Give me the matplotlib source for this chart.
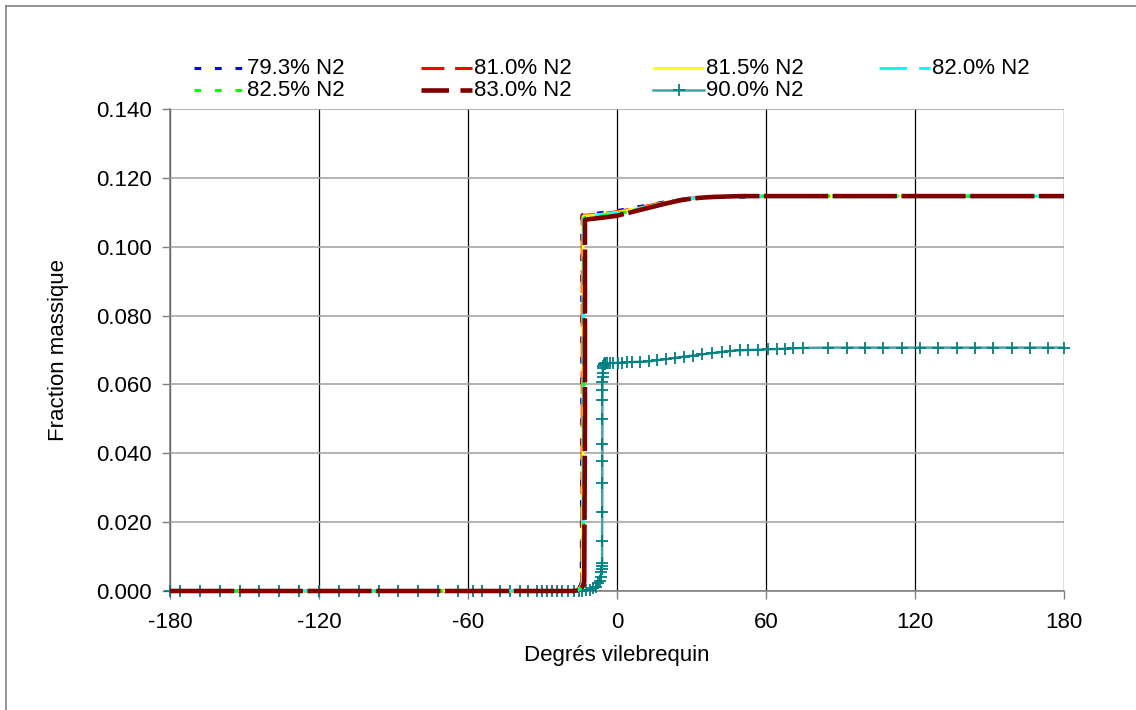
import matplotlib
matplotlib.use("Agg")
import matplotlib.pyplot as plt
from matplotlib.lines import Line2D

plt.rcParams['font.family'] = ['Liberation Sans', 'DejaVu Sans']

# ---------------- data ----------------
labels = ["79.3% N2", "81.0% N2", "81.5% N2", "82.0% N2", "82.5% N2", "83.0% N2", "90.0% N2"]

x_low = [-180, -170, -160, -150, -140, -130, -120, -110, -100, -90, -80, -70,
         -60, -50, -40, -30, -25, -20, -18]
y_low = [0.0] * len(x_low)

x_up = [-10, -5, 0, 5, 10, 15, 20, 25, 30, 35, 40, 45, 50, 60, 75, 90, 105, 120, 135, 150, 165, 180]

# near-ignition points for each mixture
x_jump_793 = [-16.5, -15.5, -14.8, -14.4, -14.2, -14.2, -14.0]
y_jump_793 = [0.0002, 0.0008, 0.0016, 0.0026, 0.0500, 0.1090, 0.1093]
y_up_793 = [0.1096, 0.1100, 0.1105, 0.1111, 0.1118, 0.1125, 0.1131, 0.1137, 0.1141, 0.1143,
            0.1144, 0.1144, 0.1144, 0.1146, 0.1146, 0.1146, 0.1146, 0.1146, 0.1146, 0.1146, 0.1146, 0.1146]

x_jump_810 = [-16.3, -15.3, -14.6, -14.2, -14.0, -14.0, -13.7]
y_jump_810 = [0.0002, 0.0008, 0.0016, 0.0026, 0.0500, 0.1088, 0.1091]
y_up_810 = [0.1093, 0.1097, 0.1102, 0.1108, 0.1115, 0.1123, 0.1130, 0.1136, 0.1141, 0.1143,
            0.1145, 0.1146, 0.1146, 0.1147, 0.1147, 0.1147, 0.1147, 0.1147, 0.1147, 0.1147, 0.1147, 0.1147]

x_jump_815 = [-16.0, -15.0, -14.3, -13.9, -13.7, -13.7, -13.4]
y_jump_815 = [0.0002, 0.0008, 0.0016, 0.0026, 0.0500, 0.1086, 0.1089]
y_up_815 = [0.1091, 0.1095, 0.1100, 0.1106, 0.1113, 0.1121, 0.1129, 0.1135, 0.1140, 0.1143,
            0.1145, 0.1146, 0.1147, 0.1147, 0.1147, 0.1147, 0.1147, 0.1147, 0.1147, 0.1147, 0.1147, 0.1147]

x_jump_820 = [-15.8, -14.8, -14.1, -13.7, -13.5, -13.5, -13.2]
y_jump_820 = [0.0002, 0.0008, 0.0016, 0.0026, 0.0500, 0.1084, 0.1087]
y_up_820 = [0.1089, 0.1093, 0.1098, 0.1104, 0.1112, 0.1120, 0.1128, 0.1135, 0.1140, 0.1143,
            0.1145, 0.1146, 0.1147, 0.1147, 0.1147, 0.1147, 0.1147, 0.1147, 0.1147, 0.1147, 0.1147, 0.1147]

x_jump_825 = [-15.6, -14.6, -13.9, -13.5, -13.3, -13.3, -13.0]
y_jump_825 = [0.0002, 0.0008, 0.0016, 0.0026, 0.0500, 0.1082, 0.1085]
y_up_825 = [0.1086, 0.1090, 0.1095, 0.1102, 0.1110, 0.1119, 0.1127, 0.1134, 0.1140, 0.1143,
            0.1145, 0.1146, 0.1147, 0.1147, 0.1147, 0.1147, 0.1147, 0.1147, 0.1147, 0.1147, 0.1147, 0.1147]

x_jump_830 = [-15.3, -14.3, -13.6, -13.2, -12.9, -12.9, -12.5]
y_jump_830 = [0.0002, 0.0008, 0.0016, 0.0026, 0.0500, 0.1077, 0.1079]
y_up_830 = [0.1081, 0.1085, 0.1090, 0.1099, 0.1108, 0.1117, 0.1126, 0.1134, 0.1140, 0.1143,
            0.1145, 0.1146, 0.1147, 0.1147, 0.1147, 0.1147, 0.1147, 0.1147, 0.1147, 0.1147, 0.1147, 0.1147]

x_900 = [-180, -176, -168, -160, -152, -144, -136, -128, -120, -112, -104, -96, -88, -80,
         -72, -64, -58, -54.5, -47, -43, -39, -35.8, -32.4, -30.2, -28.2, -26.2, -24.2,
         -22.2, -19.7, -17.5, -15.5, -14.0, -12.5, -11.0, -9.5, -8.5, -7.5, -7.0, -6.6,
         -6.3, -6.1, -6.05, -6.0, -6.0, -5.95, -5.95, -5.9, -5.9, -5.9, -5.9, -5.85, -5.85,
         -5.8, -5.75, -5.7, -5.6, -5.4, -5.0, -4.8, -4.1, -2.8, -1.5, 0.5, 1.9, 3.9, 5.9,
         9.3, 13.0, 16.0, 19.7, 23.3, 27.0, 30.7, 34.4, 38.1, 42.1, 45.5, 49.5, 52.9, 56.9,
         60.8, 64.6, 67.8, 71.0, 75.0, 85.0, 92.6, 99.9, 107.0, 114.8, 122.0, 129.3, 137.0,
         144.0, 151.4, 159.0, 166.3, 173.6, 180.0]
y_900 = [0.0, 0.0, 0.0, 0.0, 0.0, 0.0, 0.0, 0.0, 0.0, 0.0, 0.0, 0.0, 0.0, 0.0,
         0.0, 0.0, 0.0, 0.0, 0.0, 0.0, 0.0, 0.0, 0.0, 0.0, 0.0, 0.0, 0.0,
         0.0, 0.0, 0.0, 0.0001, 0.0001, 0.0002, 0.0004, 0.0008, 0.0013, 0.0022, 0.0030, 0.0042,
         0.0055, 0.0063, 0.0073, 0.0082, 0.0146, 0.0230, 0.0313, 0.0378, 0.0427, 0.0499, 0.0555, 0.0584, 0.0608,
         0.0621, 0.0632, 0.0647, 0.0653, 0.0658, 0.0660, 0.0661, 0.0661, 0.0662, 0.0662, 0.0663, 0.0663, 0.0664, 0.0665,
         0.0666, 0.0667, 0.0670, 0.0673, 0.0677, 0.0681, 0.0684, 0.0687, 0.0691, 0.0694, 0.0697, 0.0699, 0.0700, 0.0701,
         0.0702, 0.0703, 0.0704, 0.0705, 0.0706, 0.0707, 0.0707, 0.0707, 0.0707, 0.0707, 0.0707, 0.0707, 0.0707,
         0.0707, 0.0707, 0.0707, 0.0707, 0.0707, 0.0707]

x_ticks = [-180, -120, -60, 0, 60, 120, 180]
y_ticks = [0.0, 0.02, 0.04, 0.06, 0.08, 0.10, 0.12, 0.14]

# ---------------- styles ----------------
W, H = 1136, 710
FS = 16
plot_styles = [
    dict(color='#0000ff', lw=2.2, dashes=(2.2, 4.5)),
    dict(color='#ff0000', lw=2.2, dashes=(7.5, 3.5)),
    dict(color='#ffff00', lw=2.2, ls='-'),
    dict(color='#00ffff', lw=2.2, dashes=(9, 4)),
    dict(color='#00ff00', lw=2.2, dashes=(2.2, 4.5)),
    dict(color='#800000', lw=3.3, dashes=(14, 1.0)),
]
legend_styles = [
    dict(color='#0000ff', lw=2.2, dashes=(2.2, 4.5)),
    dict(color='#ff0000', lw=2.2, dashes=(7.5, 3.5)),
    dict(color='#ffff00', lw=2.2, ls='-'),
    dict(color='#00ffff', lw=2.2, dashes=(9, 4)),
    dict(color='#00ff00', lw=2.2, dashes=(2.2, 4.5)),
    dict(color='#800000', lw=3.3, dashes=(6, 2.5)),
]
teal_line = '#46a3a3'
teal_marker = '#008080'

fig = plt.figure(figsize=(W / 100, H / 100), dpi=100)
ax = fig.add_axes([170 / W, 1 - 591 / H, (1064 - 170) / W, (591 - 109) / H])

series = [
    (x_low + x_jump_793 + x_up, y_low + y_jump_793 + y_up_793),
    (x_low + x_jump_810 + x_up, y_low + y_jump_810 + y_up_810),
    (x_low + x_jump_815 + x_up, y_low + y_jump_815 + y_up_815),
    (x_low + x_jump_820 + x_up, y_low + y_jump_820 + y_up_820),
    (x_low + x_jump_825 + x_up, y_low + y_jump_825 + y_up_825),
    (x_low + x_jump_830 + x_up, y_low + y_jump_830 + y_up_830),
]
for (xs, ys), st, lab in zip(series, plot_styles, labels[:6]):
    ax.plot(xs, ys, label=lab, solid_capstyle='butt', dash_capstyle='butt',
            clip_on=False, zorder=3, **st)
ax.plot(x_900, y_900, label=labels[6], color=teal_line, lw=1.8,
        marker='+', ms=8, mew=1.3, mec=teal_marker, clip_on=False, zorder=2.9)

ax.set_xlim(-180, 180)
ax.set_ylim(0, 0.14)
ax.set_xticks(x_ticks)
ax.set_xticklabels([str(v) for v in x_ticks])
ax.set_yticks(y_ticks)
ax.set_yticklabels(['%.3f' % v for v in y_ticks])
ax.tick_params(axis='both', direction='out', length=6, width=1, color='#808080',
               labelsize=FS, labelcolor='black')
ax.tick_params(axis='y', pad=7)
ax.tick_params(axis='x', pad=9)

ax.yaxis.grid(True, color='#a6a6a6', lw=1.2)
ax.xaxis.grid(True, color='black', lw=0.9)
ax.set_axisbelow(True)
for s in ['top', 'right']:
    ax.spines[s].set_visible(False)
for s in ['left', 'bottom']:
    ax.spines[s].set_color('#808080')
    ax.spines[s].set_linewidth(1.2)
    ax.spines[s].set_zorder(2.6)

ax.set_xlabel('Degrés vilebrequin', fontsize=FS)
ax.set_ylabel('Fraction massique', fontsize=FS)
ax.xaxis.set_label_coords(0.5, -0.112)
ax.yaxis.set_label_coords(-0.113, 0.5)

# ---------------- manual legend ----------------
col_x = [194, 421, 653, 879]
row_y = [68, 90]
for k in range(7):
    r, c = divmod(k, 4)
    x0 = col_x[c]
    y0 = 1 - row_y[r] / H
    if k < 6:
        kw = dict(legend_styles[k])
        line = Line2D([x0 / W, (x0 + 51) / W], [y0, y0], transform=fig.transFigure,
                      solid_capstyle='butt', dash_capstyle='butt', **kw)
        fig.add_artist(line)
    else:
        line = Line2D([x0 / W, (x0 + 51) / W], [y0, y0], transform=fig.transFigure,
                      color=teal_line, lw=1.8)
        fig.add_artist(line)
        mk = Line2D([(x0 + 25.5) / W], [y0], transform=fig.transFigure,
                    marker='+', ms=8, mew=1.3, color=teal_marker, ls='none')
        fig.add_artist(mk)
    fig.text((x0 + 53) / W, y0, labels[k], fontsize=FS, va='center', ha='left')

# figure border (left and top visible)
fig.add_artist(Line2D([5.5 / W, 5.5 / W], [0, 1 - 5.5 / H], transform=fig.transFigure,
                      color='#808080', lw=1.2))
fig.add_artist(Line2D([5.5 / W, 1], [1 - 5.5 / H, 1 - 5.5 / H], transform=fig.transFigure,
                      color='#808080', lw=1.2))

fig.savefig('out.png', dpi=100)
